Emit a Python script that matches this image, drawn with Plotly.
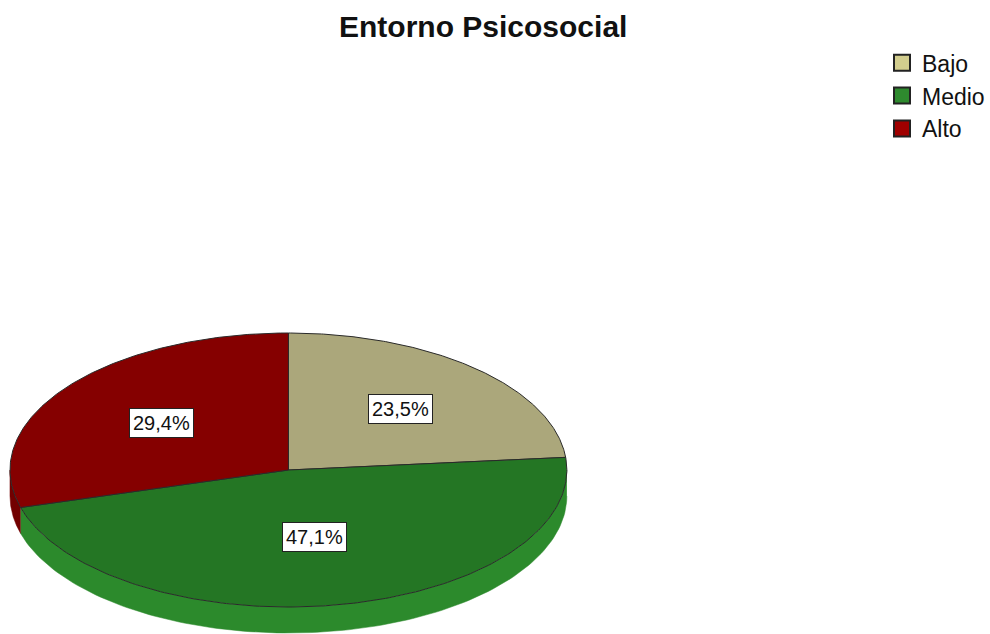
import numpy as np
import plotly.graph_objects as go

# ---- data ----
categories = ["Bajo", "Medio", "Alto"]
counts = [4, 8, 5]
title_text = "Entorno Psicosocial"

# ---- style ----
top_colors = ["#ABA77B", "#247624", "#850000"]
side_colors = ["#9A966C", "#2C8A2C", "#720000"]
legend_colors = ["#D2CD8E", "#2E8A2E", "#A00000"]
label_radius = [0.6, 0.5, 0.57]

W, H = 990, 634
cx, cy = 289, 470          # centre of the top face (px)
a, b = 279, 137            # semi axes of the top face (px)
depth = 26                 # thickness of the tilted pie (px)

total = float(sum(counts))
fracs = [c / total for c in counts]


def pt(theta_deg, r=1.0):
    """theta measured clockwise from 12 o'clock."""
    t = np.radians(90.0 - theta_deg)
    return cx + r * a * np.cos(t), cy - r * b * np.sin(t)


fig = go.Figure()

# slice angle ranges
starts, ends = [], []
acc = 0.0
for f in fracs:
    starts.append(acc * 360.0)
    acc += f
    ends.append(acc * 360.0)

# side walls (visible front half: theta between 90 and 270)
for i in range(len(counts)):
    s = max(starts[i], 90.0)
    e = min(ends[i], 270.0)
    if e <= s:
        continue
    th = np.linspace(s, e, 120)
    xs, ys = pt(th)
    px = np.concatenate([xs, xs[::-1]])
    py = np.concatenate([ys, ys[::-1] + depth])
    fig.add_trace(go.Scatter(x=px, y=py, mode="lines", fill="toself",
                             fillcolor=side_colors[i],
                             line=dict(color=side_colors[i], width=0.5),
                             hoverinfo="skip", showlegend=False))

# top faces
for i in range(len(counts)):
    th = np.linspace(starts[i], ends[i], 200)
    xs, ys = pt(th)
    px = np.concatenate([[cx], xs, [cx]])
    py = np.concatenate([[cy], ys, [cy]])
    fig.add_trace(go.Scatter(x=px, y=py, mode="lines", fill="toself",
                             fillcolor=top_colors[i],
                             line=dict(color="#2a2a2a", width=1),
                             hoverinfo="skip", showlegend=False))

# legend entries
for i, name in enumerate(categories):
    fig.add_trace(go.Scatter(x=[None], y=[None], mode="markers", name=name,
                             marker=dict(symbol="square", size=22,
                                         color=legend_colors[i],
                                         line=dict(color="#222222", width=2))))

# percentage labels
for i in range(len(counts)):
    mid = (starts[i] + ends[i]) / 2.0
    lx, ly = pt(mid, label_radius[i])
    txt = f"{fracs[i] * 100:.1f}%".replace(".", ",")
    fig.add_annotation(x=lx, y=ly, text=txt, showarrow=False,
                       font=dict(family="Liberation Sans, Arial", size=20, color="#111111"),
                       bgcolor="white", bordercolor="#222222", borderwidth=1, borderpad=3)

# title
fig.add_annotation(x=484, y=26, text=f"<b>{title_text}</b>", showarrow=False,
                   font=dict(family="Liberation Sans, Arial", size=30, color="#111111"))

fig.update_layout(
    width=W, height=H,
    margin=dict(l=0, r=0, t=0, b=0),
    paper_bgcolor="white", plot_bgcolor="white",
    xaxis=dict(range=[0, W], visible=False, fixedrange=True),
    yaxis=dict(range=[H, 0], visible=False, fixedrange=True),
    showlegend=True,
    legend=dict(x=0.893, y=0.935, xanchor="left", yanchor="top",
                font=dict(family="Liberation Sans, Arial", size=23, color="#111111"),
                itemwidth=30, tracegroupgap=0, bgcolor="rgba(0,0,0,0)"),
)

fig.write_html("out.html")
